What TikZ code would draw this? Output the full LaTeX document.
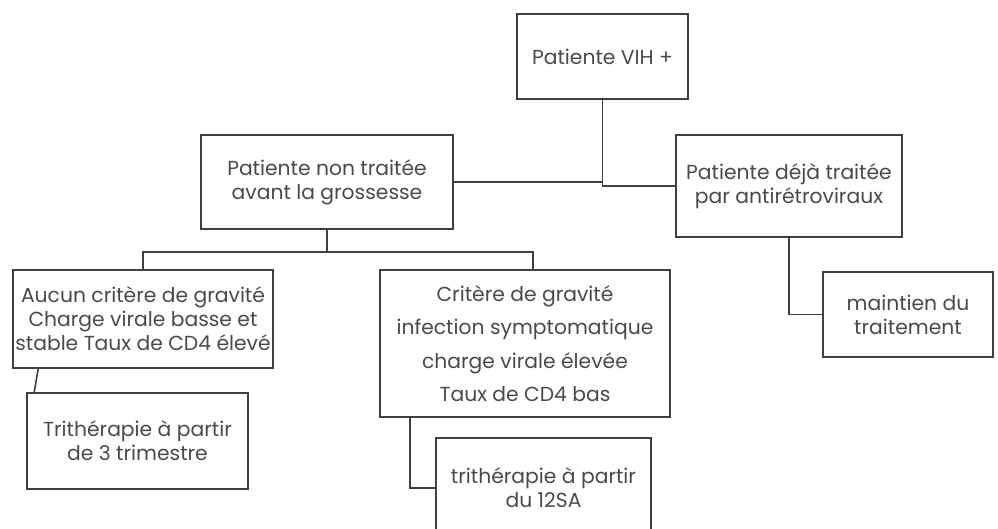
\documentclass[tikz,border=0pt]{standalone}
\usepackage{fontspec}
\setmainfont{Poppins}
\definecolor{linec}{HTML}{404040}
\definecolor{textc}{HTML}{4A4A4A}
\begin{document}
\begin{tikzpicture}[x=1pt,y=-1pt,
  box/.style={draw=linec,line width=1.6pt,rectangle,inner sep=0pt,align=center,text=textc,
    font=\fontsize{20.3}{24}\selectfont},
  conn/.style={draw=linec,line width=1.6pt}]
\useasboundingbox (0,0) rectangle (998,528);
\fill[white] (0,0) rectangle (998,528);
\node[box,minimum width=171pt,minimum height=85pt] (vih) at (602.5,56.5) {Patiente VIH +};
\node[box,minimum width=252pt,minimum height=94pt] (non) at (327,182) {Patiente non traitée\\avant la grossesse};
\node[box,minimum width=226pt,minimum height=102pt] (deja) at (789,186) {Patiente déjà traitée\\par antirétroviraux};
\node[box,minimum width=170pt,minimum height=85pt] (maint) at (908,314.5) {maintien du\\traitement};
\node[box,minimum width=260pt,minimum height=98pt] (aucun) at (143,319) {Aucun critère de gravité\\Charge virale basse et\\stable Taux de CD4 élevé};
\node[box,minimum width=290pt,minimum height=147pt,font=\fontsize{20.3}{33.5}\selectfont] (crit) at (525,343.5) {Critère de gravité\\infection symptomatique\\charge virale élevée\\Taux de CD4 bas};
\node[box,minimum width=221pt,minimum height=96pt] (tri3) at (137.5,441) {Trithérapie à partir\\de 3 trimestre};
\node[box,minimum width=215pt,minimum height=100pt] (tri12) at (543.5,488) {trithérapie à partir\\du 12SA};
\coordinate (j) at (327,252);
\draw[conn] (non.east) -| (vih.south);
\draw[conn] (vih.south) |- (deja.west);
\draw[conn] (non.south) -- (j);
\draw[conn] (aucun.north) |- (j) -| ([xshift=8pt]crit.north);
\draw[conn] ([xshift=26pt]aucun.south west) -- ([xshift=8pt]tri3.north west);
\draw[conn] ([xshift=31pt]crit.south west) |- (tri12.west);
\draw[conn] (deja.south) |- (maint.west);
\end{tikzpicture}
\end{document}
